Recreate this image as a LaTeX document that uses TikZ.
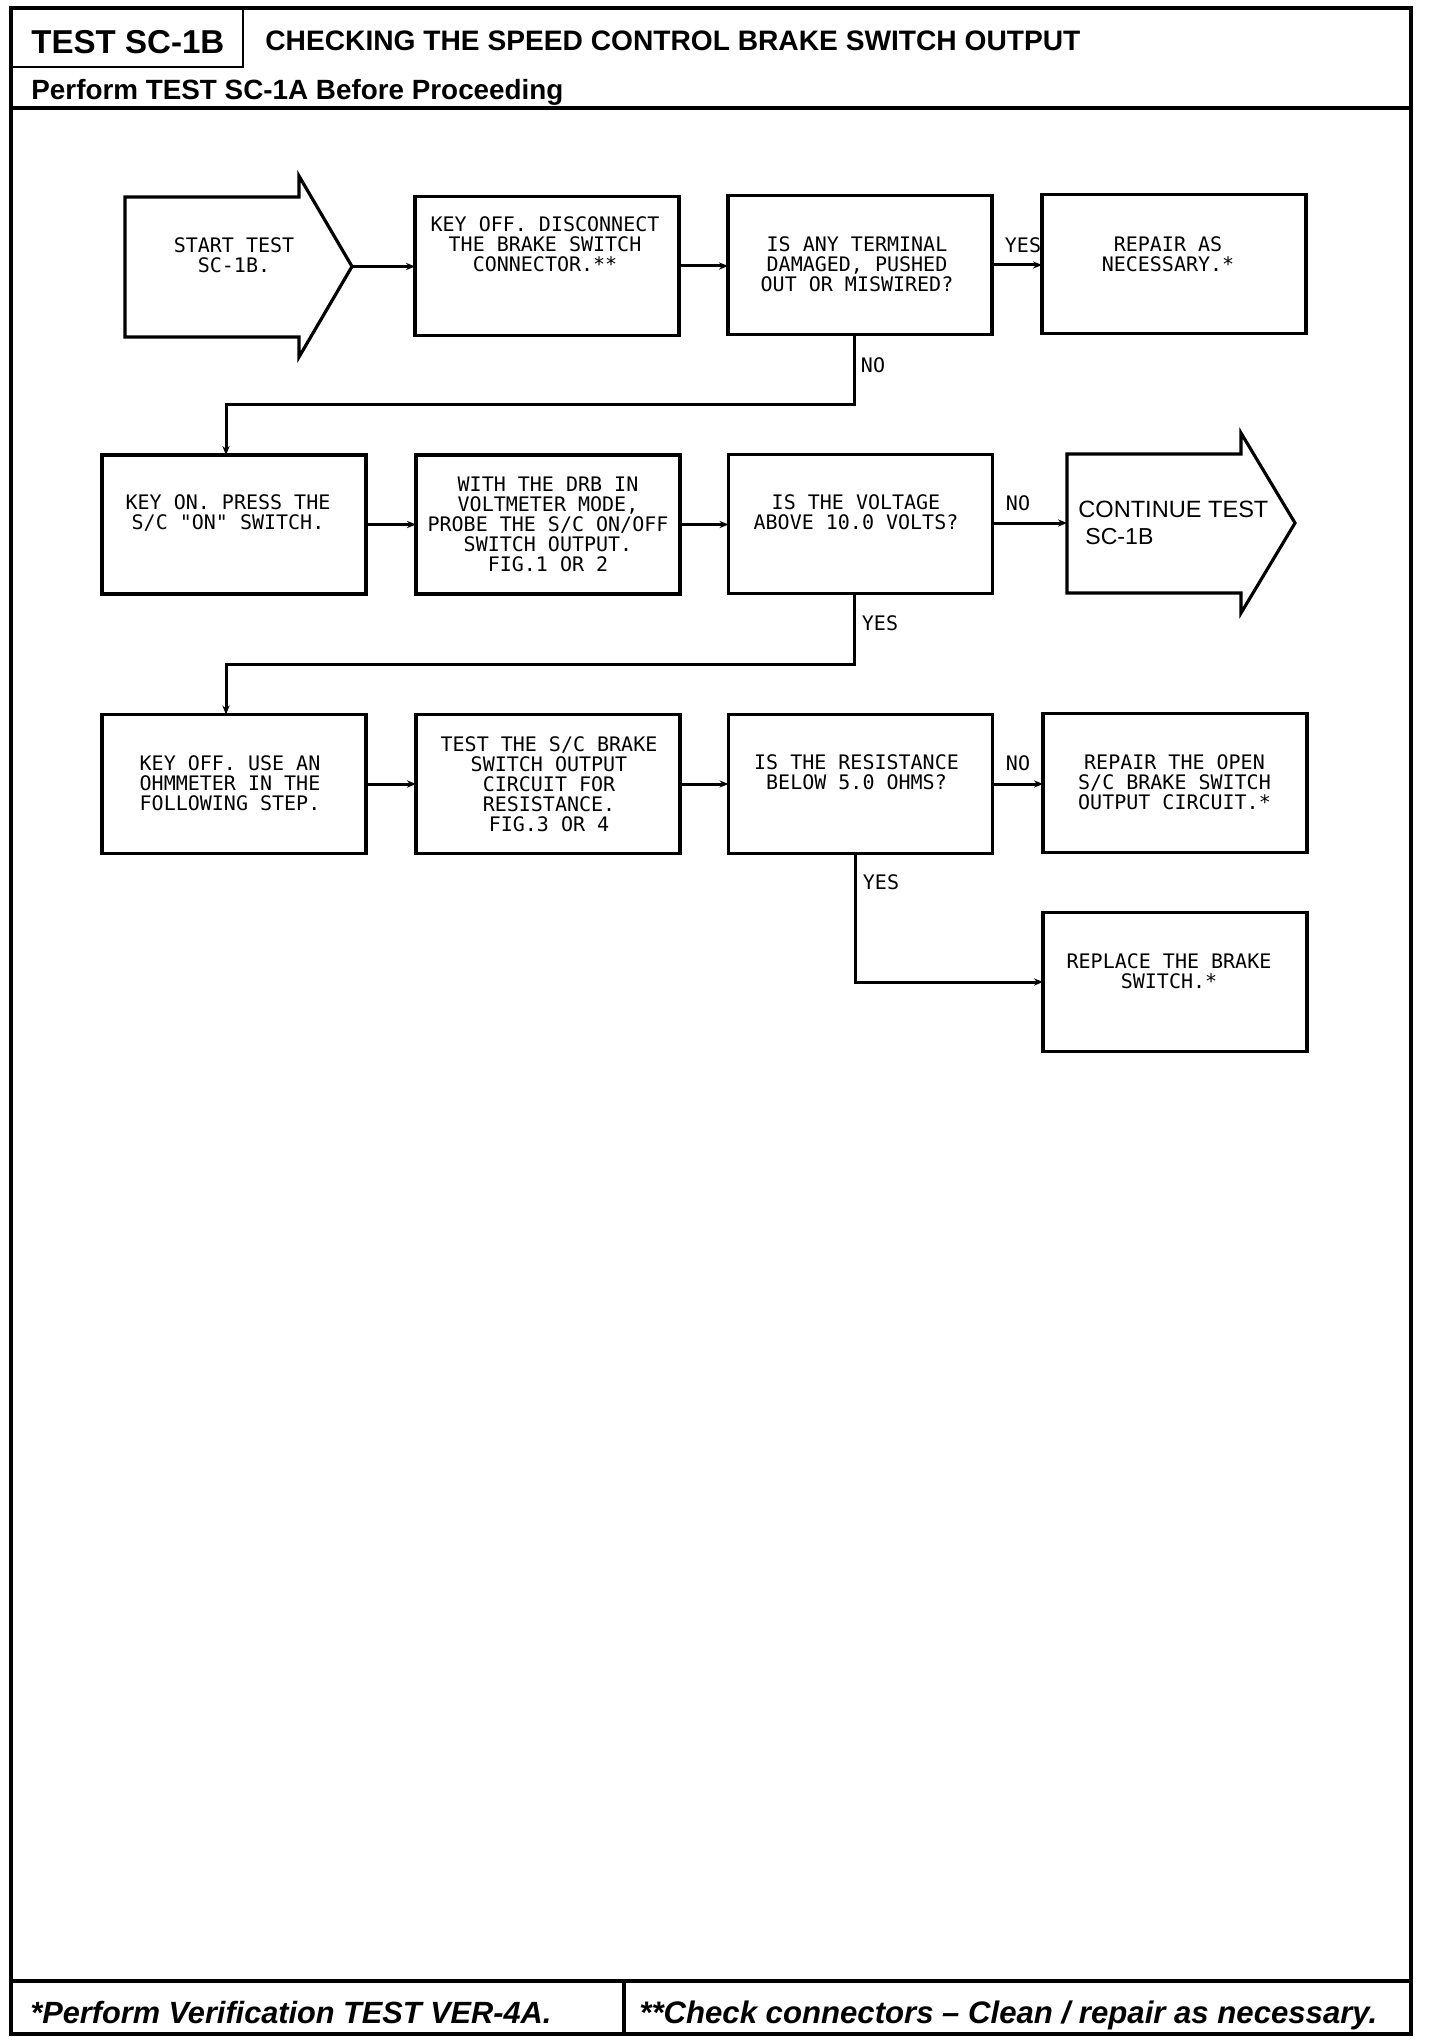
\documentclass[tikz,border=0pt]{standalone}
\usepackage{fontspec}
\usepackage{graphicx}
\setmainfont{Liberation Sans}
\newfontfamily\plotfont{DejaVu Sans Mono}
\usetikzlibrary{arrows.meta,calc}
\tikzset{
  box/.style={draw, line width=1.6pt, minimum width=132pt, minimum height=69.5pt, inner sep=0pt, outer sep=0pt},
  txt/.style={align=center, inner sep=0pt, font=\fontsize{10}{10}\selectfont\plotfont},
  lbl/.style={inner sep=0pt, font=\fontsize{10}{10}\selectfont\plotfont},
  conn/.style={line width=1.5pt, -{Stealth[length=4.5pt,width=3.6pt]}},
  bigarrow/.style={draw, line width=1.6pt, line join=miter},
  frameline/.style={line width=1.8pt},
  thinframe/.style={line width=1pt},
  head/.style={inner sep=0pt, font=\bfseries},
}
\begin{document}
\begin{tikzpicture}[x=0.5pt,y=-0.5pt]
\useasboundingbox (0,0) rectangle (1440,2044);
% ---------- frame ----------
\draw[frameline] (11,8) rectangle (1411,2034);
\draw[thinframe] (243,8) -- (243,67) -- (11,67);
\draw[line width=2.2pt] (11,108) -- (1411,108);
\draw[line width=2.2pt] (11,1981) -- (1411,1981);
\draw[frameline] (624,1981) -- (624,2034);
% ---------- header texts ----------
\node[head, anchor=base west] (hdtest) at (31,54) {\resizebox{96.5pt}{!}{TEST SC-1B}};
\node[head, anchor=base west] (hdtitle) at (265,51) {\resizebox{407.5pt}{!}{CHECKING THE SPEED CONTROL BRAKE SWITCH OUTPUT}};
\node[head, anchor=base west] (hdperf) at (31,100) {\resizebox{266pt}{!}{Perform TEST SC-1A Before Proceeding}};
\node[inner sep=0pt, anchor=base west] (ftone) at (30,2023) {\resizebox{260.5pt}{!}{\bfseries\itshape *Perform Verification TEST VER-4A.}};
\node[inner sep=0pt, anchor=base west] (fttwo) at (639,2023) {\resizebox{369pt}{!}{\bfseries\itshape **Check connectors – Clean / repair as necessary.}};
% ---------- start arrow ----------
\draw[bigarrow] (125,197) -- (299,197) -- (299,176) -- (352,266.5) -- (299,357) -- (299,337) -- (125,337) -- cycle;
\coordinate (starttip) at (352,266.5);
\node[txt] (tstart) at (234,255) {START TEST\\SC-1B.};
% ---------- continue arrow ----------
\draw[bigarrow] (1067,454) -- (1241,454) -- (1241,433) -- (1295,523) -- (1241,613) -- (1241,593) -- (1067,593) -- cycle;
\coordinate (contin) at (1067,523);
\node[inner sep=0pt, anchor=base west] (tcont) at (1078,517) {\resizebox{95pt}{!}{CONTINUE TEST}};
\node[inner sep=0pt, anchor=base west] (tcontb) at (1085,544) {\resizebox{34pt}{!}{SC-1B}};
% ---------- boxes ----------
\node[box] (b2) at (547,266) {};
\node[box] (b3) at (860,265) {};
\node[box] (b4) at (1174,264) {};
\node[box] (keyon) at (234,524.5) {};
\node[box] (drb) at (548,524.5) {};
\node[box] (volt) at (860.5,524) {};
\node[box] (keyoff) at (234,784) {};
\node[box] (test) at (548,784) {};
\node[box] (resist) at (860.5,784) {};
\node[box] (ropen) at (1175,783) {};
\node[box] (replace) at (1175,982) {};
% ---------- box texts ----------
\node[txt] (tb2) at (545,244.5) {KEY OFF. DISCONNECT\\THE BRAKE SWITCH\\CONNECTOR.**};
\node[txt] (tb3) at (857,264.5) {IS ANY TERMINAL\\DAMAGED, PUSHED\\OUT OR MISWIRED?};
\node[txt] (tb4) at (1168,254.5) {REPAIR AS\\NECESSARY.*};
\node[txt] (tkeyon) at (228,513.5) {KEY ON. PRESS THE\\S/C "ON" SWITCH.};
\node[txt] (tdrb) at (548,524.5) {WITH THE DRB IN\\VOLTMETER MODE,\\PROBE THE S/C ON/OFF\\SWITCH OUTPUT.\\FIG.1 OR 2};
\node[txt] (tvolt) at (856,512.5) {IS THE VOLTAGE\\ABOVE 10.0 VOLTS?};
\node[txt] (tkeyoff) at (230,783.5) {KEY OFF. USE AN\\OHMMETER IN THE\\FOLLOWING STEP.};
\node[txt] (ttest) at (549,784.5) {TEST THE S/C BRAKE\\SWITCH OUTPUT\\CIRCUIT FOR\\RESISTANCE.\\FIG.3 OR 4};
\node[txt] (tresist) at (856.5,772.5) {IS THE RESISTANCE\\BELOW 5.0 OHMS?};
\node[txt] (tropen) at (1174.5,782.5) {REPAIR THE OPEN\\S/C BRAKE SWITCH\\OUTPUT CIRCUIT.*};
\node[txt] (treplace) at (1169,971.5) {REPLACE THE BRAKE\\SWITCH.*};
% ---------- bend points ----------
\coordinate (ka) at (854,404);
\coordinate (kb) at (226,404);
\coordinate (va) at (854,664);
\coordinate (vb) at (226,664);
\coordinate (ra) at (855,982);
% ---------- connectors ----------
\draw[conn] (starttip) -- (starttip -| b2.west);
\draw[conn] (b2.east) -- (b3.west |- b2.east);
\draw[conn] (b3.east) -- (b4.west |- b3.east);
\draw[conn] (b3.south -| ka) -- (ka) -- (kb) -- (keyon.north -| kb);
\draw[conn] (keyon.east) -- (drb.west);
\draw[conn] (drb.east) -- (volt.west |- drb.east);
\draw[conn] (volt.east |- contin) -- (contin);
\draw[conn] (volt.south -| va) -- (va) -- (vb) -- (keyoff.north -| vb);
\draw[conn] (keyoff.east) -- (test.west);
\draw[conn] (test.east) -- (resist.west);
\draw[conn] (resist.east) -- (ropen.west |- resist.east);
\draw[conn] (resist.south -| ra) -- (ra) -- (ra -| replace.west);
% ---------- labels ----------
\node[lbl] (lyes1) at (1023,245) {YES};
\node[lbl] (lno1) at (873,365) {NO};
\node[lbl] (lno2) at (1018,503) {NO};
\node[lbl] (lyes2) at (880,623) {YES};
\node[lbl] (lno3) at (1018,763) {NO};
\node[lbl] (lyes3) at (881,882) {YES};
\end{tikzpicture}
\end{document}
